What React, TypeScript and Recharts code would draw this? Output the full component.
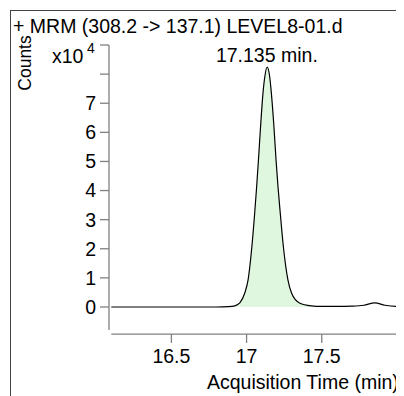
import { Area, ComposedChart, Line, ReferenceDot, ReferenceLine, XAxis, YAxis } from "recharts";

// acquisition time (min)
const times = [
  16.1, 16.5, 16.8, 16.88, 16.922, 16.955, 16.988, 17.01, 17.035, 17.054, 17.067, 17.079, 17.093, 17.109,
  17.121, 17.137, 17.154, 17.165, 17.182, 17.196, 17.209, 17.224, 17.245, 17.275, 17.299, 17.352, 17.43,
  17.5, 17.6, 17.7, 17.78, 17.852, 17.92, 18.0, 18.1, 18.2,
];
// counts, x10^4
const counts = [
  0, 0, 0, 0.01, 0.04, 0.14, 0.48, 0.93, 2.06, 3.23, 4.13, 5.05, 6.19, 7.34,
  7.9, 8.24, 7.9, 7.34, 6.19, 5.05, 4.13, 3.23, 2.06, 0.93, 0.48, 0.14, 0.04,
  0.02, 0.02, 0.03, 0.06, 0.14, 0.06, 0.02, 0.02, 0.02,
];
const peakStart = 16.922;
const peakEnd = 17.43;
const peakTime = 17.135;
const peakHeight = 8.24;
const xTicks = [16.5, 17, 17.5, 18];
const yTicks = [0, 1, 2, 3, 4, 5, 6, 7, 8, 9];

const data = times.map((t, i) => ({
  t,
  v: counts[i],
  peak: t >= peakStart && t <= peakEnd ? counts[i] : null,
}));

const FONT = "'Liberation Sans', Arial, sans-serif";
const AXIS = "#808080";

function XTick({ x, y, payload }: any) {
  return (
    <g>
      <line x1={x} x2={x} y1={y + 4} y2={y + 13} stroke={AXIS} strokeWidth={1.3} />
      {payload.value < 18 && (
        <text x={x} y={y + 33} textAnchor="middle" fill="#000" fontSize={19.5} fontFamily={FONT}>
          {payload.value}
        </text>
      )}
    </g>
  );
}

export default function App() {
  return (
    <div style={{ position: "relative", width: 396, height: 388, overflow: "hidden", fontFamily: FONT }}>
      <div
        style={{
          position: "absolute",
          left: 2,
          top: 2,
          width: 600,
          height: 600,
          border: "1px solid #444",
        }}
      />
      <div style={{ position: "absolute", left: 0, top: 0 }}>
        <ComposedChart width={430} height={388} data={data} margin={{ top: 37, right: 11, bottom: 0, left: 0 }}>
          <XAxis
            dataKey="t"
            type="number"
            domain={[16.085, 18.2]}
            ticks={xTicks}
            axisLine={false}
            tickLine={false}
            tickSize={0}
            tickMargin={0}
            height={66}
            tick={<XTick />}
            allowDataOverflow
          />
          <YAxis
            type="number"
            domain={[-0.79, 9]}
            ticks={yTicks}
            width={101}
            tickSize={9}
            tickMargin={4}
            interval={0}
            axisLine={{ stroke: AXIS, strokeWidth: 1.3 }}
            tickLine={{ stroke: AXIS, strokeWidth: 1.3 }}
            tick={{ fill: "#000", fontSize: 19.5, fontFamily: FONT }}
            tickFormatter={(v: number) => (v <= 7 ? String(v) : "")}
          />
          <ReferenceLine
            segment={[
              { x: 16.1, y: -0.93 },
              { x: 18.2, y: -0.93 },
            ]}
            stroke={AXIS}
            strokeWidth={1.3}
            ifOverflow="visible"
          />
          <Area
            type="monotone"
            dataKey="peak"
            fill="#dff7df"
            fillOpacity={1}
            stroke="none"
            isAnimationActive={false}
          />
          <Line
            type="monotone"
            dataKey="v"
            stroke="#000"
            strokeWidth={1.2}
            dot={false}
            activeDot={false}
            isAnimationActive={false}
          />
          <ReferenceDot
            x={peakTime}
            y={peakHeight}
            r={0}
            fill="none"
            stroke="none"
            ifOverflow="visible"
            label={{ value: "17.135 min.", position: "top", offset: 5, fill: "#000", fontSize: 19.5, fontFamily: FONT }}
          />
        </ComposedChart>
      </div>
      <svg width={396} height={388} style={{ position: "absolute", left: 0, top: 0, pointerEvents: "none" }}>
        <text x={5} y={25} fontSize={19.5} fill="#000" fontFamily={FONT}>
          + MRM (308.2 -&gt; 137.1) LEVEL8-01.d
        </text>
        <text
          x={16.5}
          y={55}
          dy="0.35em"
          textAnchor="middle"
          transform="rotate(-90 16.5 55)"
          fontSize={17.5}
          fill="#000"
          fontFamily={FONT}
        >
          Counts
        </text>
        <text x={44} y={55} fontSize={19.5} fill="#000" fontFamily={FONT}>
          x10
        </text>
        <text x={79} y={45} fontSize={14} fill="#000" fontFamily={FONT}>
          4
        </text>
        <text x={199} y={381} fontSize={19.5} fill="#000" fontFamily={FONT}>
          Acquisition Time (min)
        </text>
      </svg>
    </div>
  );
}
